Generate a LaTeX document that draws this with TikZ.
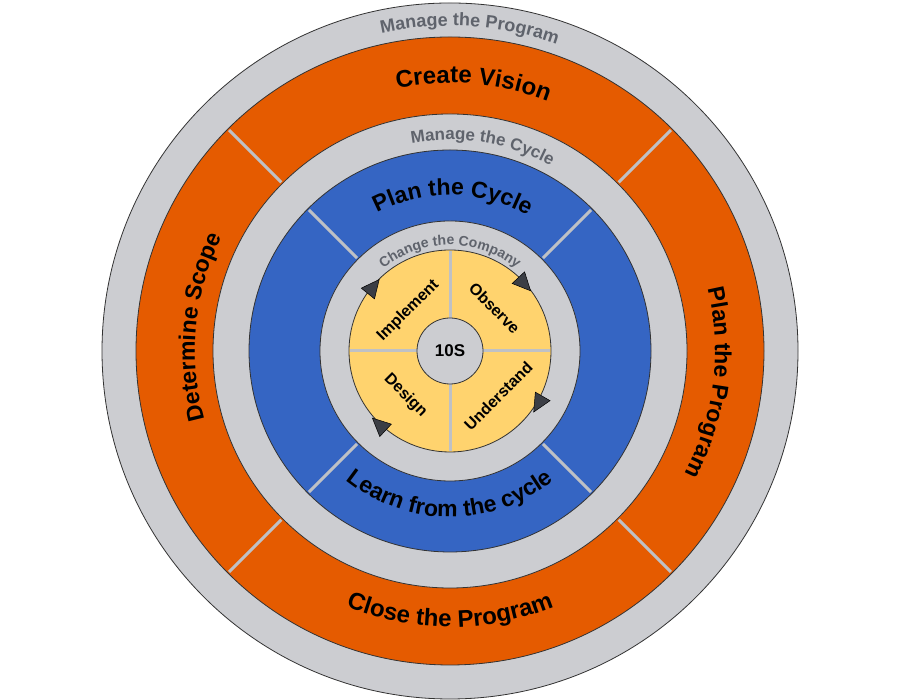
\documentclass[tikz,border=0pt]{standalone}
\usepackage{fontspec}
\setmainfont{Liberation Sans}
\usetikzlibrary{decorations.text}
\definecolor{ringgray}{HTML}{CCCDD1}
\definecolor{orng}{HTML}{E55B00}
\definecolor{blu}{HTML}{3565C3}
\definecolor{yel}{HTML}{FFD36E}
\definecolor{txtgray}{HTML}{5F636C}
\definecolor{divgray}{HTML}{BFC1C5}
\definecolor{arrowc}{HTML}{3B3E45}
\newcommand\arctextcw[5]{% color, size, center angle, radius, text
  \path[decorate, decoration={text along path, text align=center, text color=#1,
    text={|\bfseries\fontsize{#2}{#2}\selectfont|#5}}]
    (#3+70:#4pt) arc[start angle=#3+70, end angle=#3-70, radius=#4pt];}
\newcommand\arctextccw[5]{% color, size, center angle, radius, text
  \path[decorate, decoration={text along path, text align=center, text color=#1,
    text={|\bfseries\fontsize{#2}{#2}\selectfont|#5}}]
    (#3-70:#4pt) arc[start angle=#3-70, end angle=#3+70, radius=#4pt];}
\newcommand\cwarrow[2]{% angle, radius
  \filldraw[fill=arrowc, draw=black, line width=0.5pt, rotate=#1]
    (#2pt,-11pt) -- (#2pt-8.5pt,7pt) -- (#2pt+8.5pt,7pt) -- cycle;}
\tikzset{
  ring/.style={draw=black!80, line width=0.8pt},
  divider/.style={draw=divgray, line width=3pt},
  innerlbl/.style={font=\bfseries\fontsize{16}{16}\selectfont, inner sep=0pt}
}
\begin{document}
\begin{tikzpicture}[x=1pt,y=1pt]
\useasboundingbox (0,0) rectangle (900,700);
\fill[white] (0,0) rectangle (900,700);
\begin{scope}[shift={(450,349)}]
  % outer gray ring
  \filldraw[fill=ringgray, ring] (0,0) circle[radius=348pt];
  % orange ring
  \filldraw[fill=orng, ring] (0,0) circle[radius=314pt];
  \filldraw[fill=ringgray, ring] (0,0) circle[radius=237pt];
  % blue ring
  \filldraw[fill=blu, ring] (0,0) circle[radius=201pt];
  \filldraw[fill=ringgray, ring] (0,0) circle[radius=130pt];
  % yellow disc
  \filldraw[fill=yel, ring] (0,0) circle[radius=101pt];
  % dividers
  \foreach \a in {45,135,225,315} {
    \draw[divider] (\a:238.5pt) -- (\a:312.5pt);
    \draw[divider] (\a:131.5pt) -- (\a:199.5pt);
  }
  \foreach \a in {0,90,180,270} {
    \draw[divider] (\a:33pt) -- (\a:100pt);
  }
  % center
  \filldraw[fill=ringgray, ring] (0,0) circle[radius=33pt];
  \node[font=\bfseries\fontsize{17}{17}\selectfont] (tens) at (0,0) {10S};

  % ring texts
  \arctextcw{txtgray}{18}{86.5}{325}{Manage the Program}
  \arctextcw{black}{24}{85}{268}{Create Vision}
  \arctextcw{black}{23}{-7}{265}{Plan the Program}
  \arctextccw{black}{24}{-90}{276}{Close the Program}
  \arctextcw{black}{23}{174.5}{255}{Determine Scope}
  \arctextcw{txtgray}{17}{81}{211}{Manage the Cycle}
  \arctextcw{black}{23}{89}{156}{Plan the Cycle}
  \arctextccw{black}{23}{-90}{166}{Learn from the cycle}
  \arctextcw{txtgray}{14}{90}{106}{Change the Company}

  % inner labels
  \node[innerlbl, rotate=45]  (impl) at (136:58pt) {Implement};
  \node[innerlbl, rotate=-45] (obs)  at (44:62pt)  {Observe};
  \node[innerlbl, rotate=45]  (und)  at (-43:66pt) {Understand};
  \node[innerlbl, rotate=-45] (des)  at (-135:63pt) {Design};

  % arrowheads
  \cwarrow{141}{100}
  \cwarrow{43}{100}
  \cwarrow{-30}{103}
  \cwarrow{227}{102}
\end{scope}
\end{tikzpicture}
\end{document}
